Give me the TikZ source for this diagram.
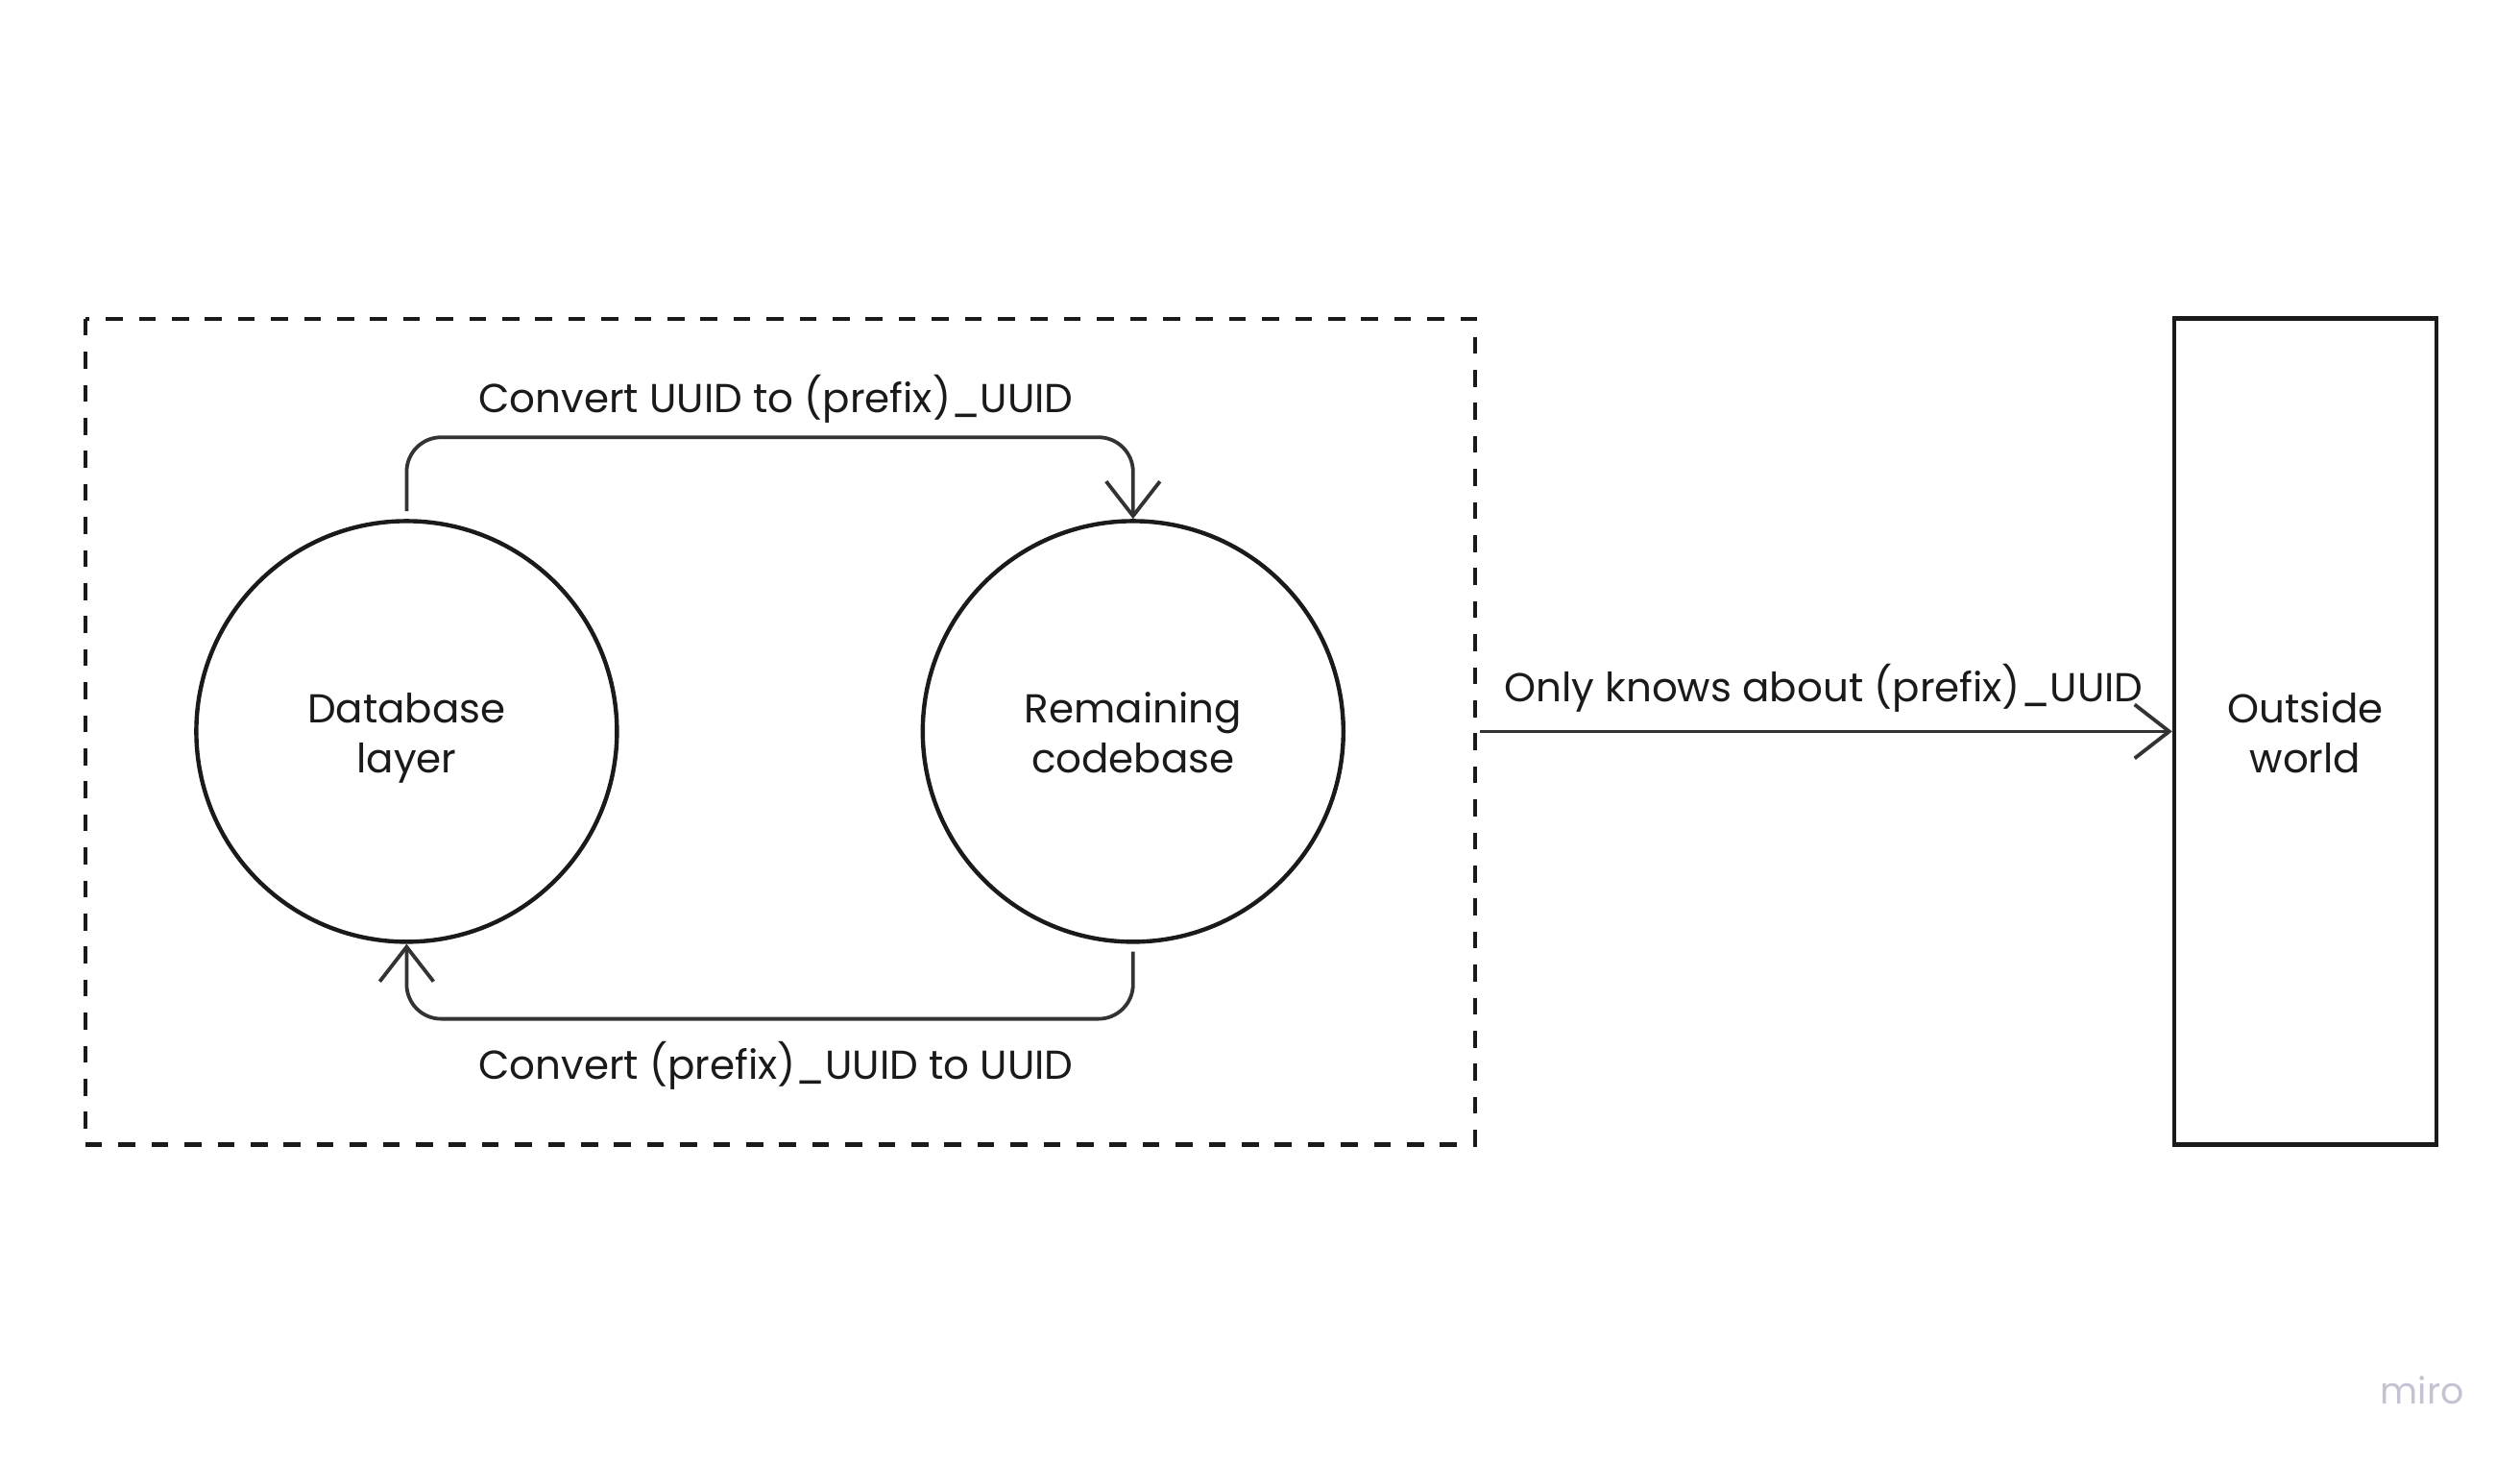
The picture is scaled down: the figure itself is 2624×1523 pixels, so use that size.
\documentclass[tikz,border=0pt]{standalone}
\usepackage{fontspec}
\setmainfont{Poppins}
\usetikzlibrary{arrows.meta}
\definecolor{ink}{HTML}{1A1A1A}
\definecolor{conn}{HTML}{333333}
\definecolor{miro}{HTML}{C4C3D2}
\newcommand{\tallstrut}{\rule{0pt}{12.5pt}}
\tikzset{
  lbl/.style={font=\fontsize{10.5}{13}\selectfont, text=ink, inner sep=0pt},
  bubble/.style={circle, draw=ink, line width=1.1pt, minimum size=109.5pt, inner sep=0pt, align=center, font=\fontsize{10.5}{13}\selectfont, text=ink},
  boxnode/.style={rectangle, draw=ink, line width=1.1pt, minimum width=68.25pt, minimum height=215pt, inner sep=0pt, align=center, font=\fontsize{10.5}{13}\selectfont, text=ink},
  connector/.style={draw=conn, line width=0.95pt, rounded corners=9pt, -{Straight Barb[length=9pt,width=14pt,line width=0.95pt]}},
}
\begin{document}
\begin{tikzpicture}[x=0.25pt,y=-0.25pt]
\useasboundingbox (0,0) rectangle (2624,1523);
% dashed group
\draw[ink, line width=1.05pt, dash pattern=on 4.4pt off 4.2pt] (88.7,331.7) rectangle (1536,1191.5);
% circles
\node[bubble] (db) at (423.4,761.4) {\tallstrut Database\\layer\strut};
\node[bubble] (rc) at (1179.8,761.4) {\tallstrut Remaining\\codebase\strut};
% outside world
\node[boxnode] (ow) at (2400.5,761.4) {\tallstrut Outside\\world\strut};
% top connector
\coordinate (t1) at ([yshift=2pt]db.north);
\draw[connector] (t1) -- ++(0,-77) -| (rc.north);
\node[lbl] (tl) at (808,415) {Convert UUID to (prefix)\_UUID};
% bottom connector
\coordinate (b1) at ([yshift=-2pt]rc.south);
\draw[connector] (b1) -- ++(0,70) -| (db.south);
\node[lbl] (bl) at (808,1109.5) {Convert (prefix)\_UUID to UUID};
% to outside world
\coordinate (gs) at (1541,761.4);
\draw[connector] (gs) -- (ow.west);
\node[lbl] (ol) at (1899,716) {Only knows about (prefix)\_UUID};
% watermark
\node[font=\fontsize{9.5}{11}\selectfont, text=miro, inner sep=0pt] (wm) at (2522,1447) {miro};
\end{tikzpicture}
\end{document}
